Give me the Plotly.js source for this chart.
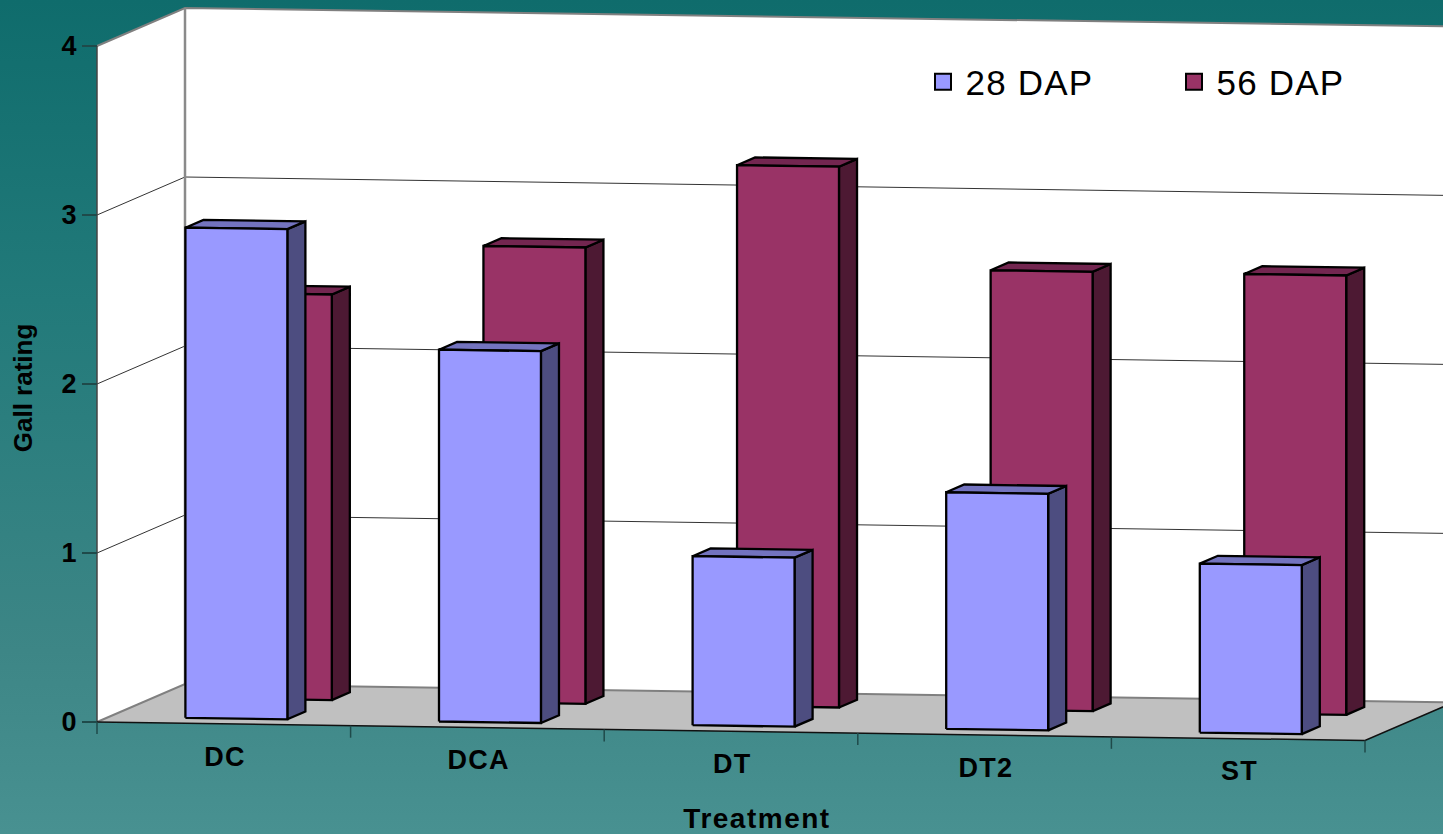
<!DOCTYPE html>
<html>
<head>
<meta charset="utf-8">
<script src="https://cdn.plot.ly/plotly-3.0.1.min.js"></script>
<style>
html,body{margin:0;padding:0;width:1443px;height:834px;overflow:hidden;
background:linear-gradient(to bottom,#0f6c6c 0%,#227a7a 36%,#3d8686 78%,#489191 100%);}
#chart{width:1443px;height:834px;}
.xtitle{letter-spacing:1.5px;}
.legendtext{letter-spacing:1.2px;}
.textpoint text{letter-spacing:1.2px;}
</style>
</head>
<body>
<div id="chart"></div>
<script>
const categories = ["DC","DCA","DT","DT2","ST"];
const dap28 = [2.9,2.2,1.0,1.4,1.0];
const dap56 = [2.4,2.7,3.2,2.6,2.6];
const yTicks = [0,1,2,3,4];

// oblique projection of the 3-D chart box onto the plain cartesian axes
const W=1443,H=834,unitX=253.6,unitY=169,x0=97,y0=722,domLeft=71,domBottom=776;
const depthX=88/unitX, depthY=38/unitY, slope=3.7/unitY;
const px=(u,d)=>u+d*depthX;
const py=(u,v,d)=>v-u*slope+d*depthY;
function poly(pts){const x=[],y=[];pts.forEach(p=>{x.push(px(p[0],p[2]));y.push(py(p[0],p[1],p[2]));});
  x.push(x[0]);y.push(y[0]);x.push(null);y.push(null);return {x,y};}
function merge(list){return {x:[].concat(...list.map(o=>o.x)),y:[].concat(...list.map(o=>o.y))};}
function line(pts,color,width){const x=[],y=[];pts.forEach(p=>{x.push(px(p[0],p[2]));y.push(py(p[0],p[1],p[2]));});
  return {type:'scatter',mode:'lines',x,y,line:{color,width},hoverinfo:'skip',showlegend:false};}
function face(pts,color,lw){const m=merge(pts.map(poly));
  return {type:'scatter',mode:'lines',x:m.x,y:m.y,fill:'toself',fillcolor:color,
    line:{color:'#000',width:lw===undefined?2.3:lw},hoverinfo:'skip',showlegend:false};}
function fillOnly(pts,color){const t=face([pts],color,0);t.line={color:color,width:0};return t;}

const traces=[];
const nCat=categories.length;
// walls and floor
traces.push(fillOnly([[0,0,1],[nCat,0,1],[nCat,4,1],[0,4,1]],'#ffffff'));
traces.push(fillOnly([[0,0,0],[0,0,1],[0,4,1],[0,4,0]],'#ffffff'));
traces.push(fillOnly([[0,0,0],[nCat,0,0],[nCat,0,1],[0,0,1]],'#c0c0c0'));
yTicks.slice(1,4).forEach(v=>{
  traces.push(line([[0,v,0],[0,v,1],[nCat,v,1]],'#333333',1));
});
traces.push(line([[0,4,0],[0,4,1],[nCat,4,1]],'#808080',2));
traces.push(line([[0,0,1],[0,4,1]],'#8a8a8a',2.5));
traces.push(line([[0,0,0],[0,0,1],[nCat,0,1]],'#808080',2));
traces.push(line([[0,0,0],[0,4,0]],'#444444',1.5));
traces.push(line([[0,0,0],[nCat,0,0],[nCat,0,1]],'#111111',1.5));
// category ticks under the floor edge
const tickPx=12/unitY;
for(let i=0;i<=nCat;i++){traces.push(line([[i,0,0],[i,-tickPx,0]],'#1f4a4a',1.5));}

// bars
const barStart=0.30,barWidth=0.402,barDepth=0.205;
function barSeries(values,d,cFront,cSide,cTop){
  const front=[],side=[],top=[];
  values.forEach((v,i)=>{
    const a=i+barStart,b=a+barWidth,e=d+barDepth;
    front.push([[a,0,d],[b,0,d],[b,v,d],[a,v,d]]);
    side.push([[b,0,d],[b,0,e],[b,v,e],[b,v,d]]);
    top.push([[a,v,d],[b,v,d],[b,v,e],[a,v,e]]);
  });
  traces.push(face(side,cSide),face(top,cTop),face(front,cFront));
}
barSeries(dap56,0.645,'#993366','#4d1933','#732650');
barSeries(dap28,0.14,'#9999ff','#4d4d80','#7373bf');

// category labels follow the sloped floor edge
traces.push({type:'scatter',mode:'text',x:categories.map((c,i)=>i+0.505),
  y:categories.map((c,i)=>-(37+3.6*i)/unitY),text:categories.map(c=>'<b>'+c+'</b>'),textposition:'middle center',
  textfont:{family:'"Liberation Sans",Arial,sans-serif',size:27,color:'#000'},
  cliponaxis:false,hoverinfo:'skip',showlegend:false});

// legend entries
[['28 DAP','#9999ff'],['56 DAP','#993366']].forEach(s=>{
  traces.push({type:'scatter',mode:'markers',name:s[0],x:[null],y:[null],
    marker:{symbol:'square',size:20,color:s[1],line:{color:'#000',width:2}},hoverinfo:'skip'});
});

const layout={
  width:W,height:H,margin:{l:0,r:0,t:0,b:0},
  paper_bgcolor:'rgba(0,0,0,0)',plot_bgcolor:'rgba(0,0,0,0)',
  font:{family:'"Liberation Sans",Arial,sans-serif',color:'#000'},
  xaxis:{domain:[domLeft/W,1],range:[(domLeft-x0)/unitX,(W-x0)/unitX],showgrid:false,zeroline:false,
    showline:false,ticks:'',showticklabels:false,
    title:{text:'<b>Treatment</b>',standoff:32,font:{size:28,color:'#000'}}},
  yaxis:{domain:[(H-domBottom)/H,1],range:[(y0-domBottom)/unitY,y0/unitY],anchor:'free',position:x0/W,
    showgrid:false,zeroline:false,showline:false,tickmode:'array',tickvals:yTicks,
    ticktext:yTicks.map(v=>'<b>'+v+'</b>'),ticks:'outside',ticklen:15,tickwidth:1.5,tickcolor:'#1f4a4a',
    tickfont:{size:27,color:'#000'},
    title:{text:'<b>Gall rating</b>',standoff:20,font:{size:26,color:'#000'}}},
  showlegend:true,
  legend:{orientation:'h',x:920.5/W,xanchor:'left',y:1-(82/H),yanchor:'middle',bgcolor:'rgba(0,0,0,0)',
    font:{size:35,color:'#000'},itemwidth:35,entrywidth:201,entrywidthmode:'pixels',itemclick:false,itemdoubleclick:false}
};
Plotly.newPlot('chart',traces,layout,{displayModeBar:false,staticPlot:true});
</script>
</body>
</html>
